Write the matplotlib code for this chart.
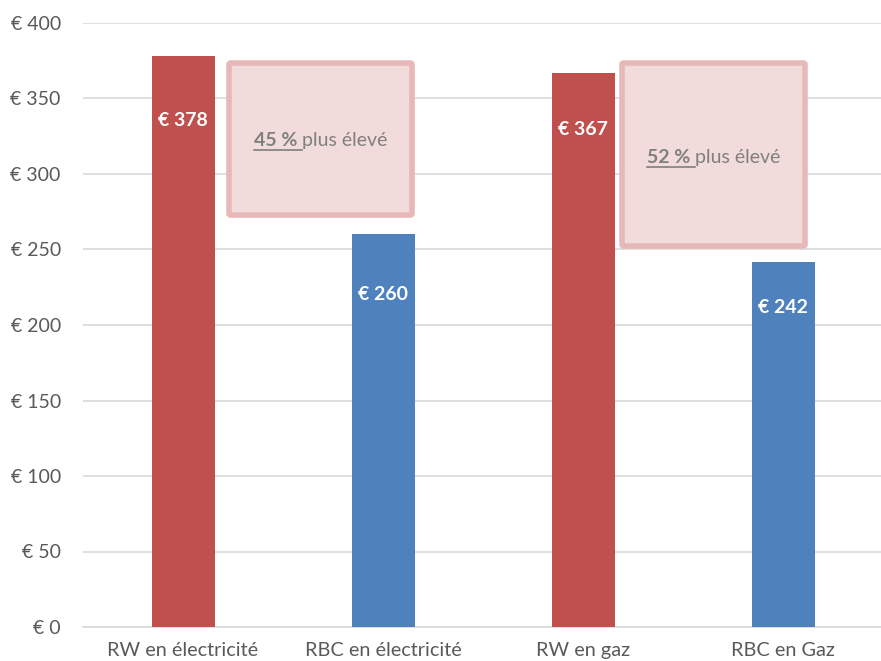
import matplotlib
matplotlib.use("Agg")
import matplotlib.pyplot as plt
from matplotlib.patches import FancyBboxPatch
from matplotlib.lines import Line2D

categories = ["RW en électricité", "RBC en électricité", "RW en gaz", "RBC en Gaz"]
values = [378, 260, 367, 242]
colors = ["#C0504D", "#4F81BD", "#C0504D", "#4F81BD"]
value_labels = ["€ 378", "€ 260", "€ 367", "€ 242"]
label_offsets_px = [64, 60, 57, 46]
yticks = [0, 50, 100, 150, 200, 250, 300, 350, 400]
ytick_labels = ["€ 0", "€ 50", "€ 100", "€ 150", "€ 200", "€ 250", "€ 300", "€ 350", "€ 400"]
box_pct = ["45 % ", "52 % "]
box_text = "plus élevé"

plt.rcParams['font.family'] = ['Lato', 'DejaVu Sans']
FS = 14

W, H = 881, 661
fig = plt.figure(figsize=(W / 100, H / 100), dpi=100)
ax = fig.add_axes([83 / W, 34 / H, 800 / W, 604 / H])

x = list(range(len(categories)))
ax.bar(x, values, width=0.315, color=colors, zorder=3)
ax.set_xlim(-0.5, 3.5)
ax.set_ylim(0, 400)
ax.set_yticks(yticks)
ax.set_yticklabels(ytick_labels, fontsize=FS, color="#595959")
ax.set_xticks(x)
ax.set_xticklabels(categories, fontsize=14.3, color="#595959")
ax.tick_params(axis='both', length=0)
ax.tick_params(axis='y', pad=16)
ax.tick_params(axis='x', pad=11)
ax.grid(axis='y', color="#D9D9D9", linewidth=1.2, zorder=0)
for s in ["top", "right", "left"]:
    ax.spines[s].set_visible(False)
ax.spines["bottom"].set_color("#D9D9D9")
ax.spines["bottom"].set_linewidth(1.2)

for xi, v, lab, off in zip(x, values, value_labels, label_offsets_px):
    ax.annotate(lab, xy=(xi, v), xytext=(0, -off), textcoords="offset pixels",
                ha="center", va="center", color="white", fontsize=FS,
                fontweight="bold", zorder=5)

# annotation boxes
boxes = [((0.23, 272.8), 0.915, 100.7, 322.5), ((2.195, 252.3), 0.915, 121.2, 311)]
for (xy, w, h, ty), pct in zip(boxes, box_pct):
    p = FancyBboxPatch(xy, w, h, boxstyle="round,pad=0,rounding_size=0.01",
                       facecolor="#F2DCDB", edgecolor="#E6B9B8", linewidth=4,
                       mutation_aspect=100, zorder=4)
    ax.add_patch(p)

fig.canvas.draw()
renderer = fig.canvas.get_renderer()
for (xy, w, h, ty), pct in zip(boxes, box_pct):
    cx = xy[0] + w / 2
    t1 = ax.text(0, ty, pct, fontsize=FS, fontweight="bold", color="#7F7F7F",
                 ha="left", va="center", zorder=6)
    t2 = ax.text(0, ty, box_text, fontsize=FS, color="#7F7F7F",
                 ha="left", va="center", zorder=6)
    b1 = t1.get_window_extent(renderer)
    b2 = t2.get_window_extent(renderer)
    total = b1.width + b2.width
    cx_disp = ax.transData.transform((cx, ty))
    left = cx_disp[0] - total / 2
    inv = ax.transData.inverted()
    x1 = inv.transform((left, cx_disp[1]))[0]
    x2 = inv.transform((left + b1.width, cx_disp[1]))[0]
    t1.set_x(x1)
    t2.set_x(x2)
    # underline
    yline = cx_disp[1] - 10
    p0 = inv.transform((left, yline))
    p1 = inv.transform((left + b1.width, yline))
    ax.add_line(Line2D([p0[0], p1[0]], [p0[1], p1[1]], color="#7F7F7F",
                       linewidth=1.2, zorder=6))

fig.savefig("out.png", dpi=100)
